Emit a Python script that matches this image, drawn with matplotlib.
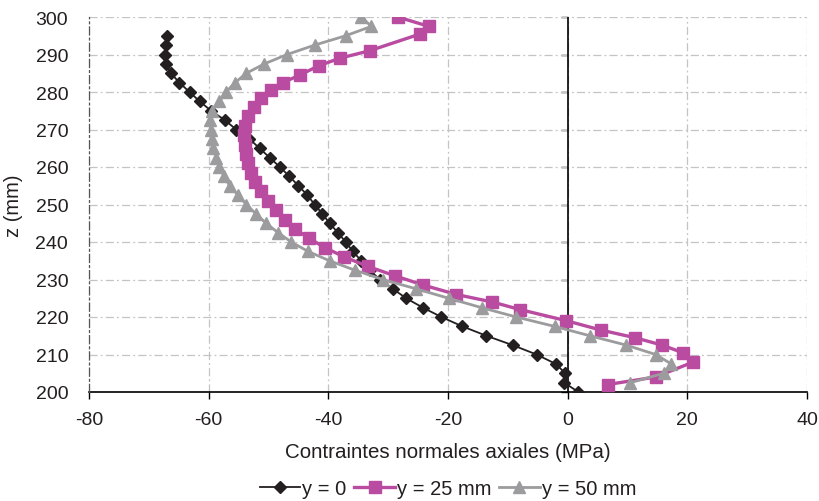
import matplotlib
matplotlib.use("Agg")
import matplotlib.pyplot as plt

# y = 0 (black diamonds)
z_black = [200, 202.5, 205, 207.5, 210, 212.5, 215, 217.5, 220, 222.5,
           225, 227.5, 230, 232.5, 235, 237.5, 240, 242.5, 245, 247.5,
           250, 252.5, 255, 257.5, 260, 262.5, 265, 267.5, 270, 272.5,
           275, 277.5, 280, 282.5, 285, 287.5, 290, 292.5, 295]
s_black = [1.8, -0.6, -0.4, -2.0, -5.2, -9.2, -13.6, -17.6, -21.1, -24.2,
           -27.0, -29.2, -31.4, -33.1, -34.5, -35.9, -37.1, -38.4, -39.8, -41.0,
           -42.3, -43.5, -45.0, -46.5, -48.1, -49.8, -51.5, -53.2, -55.4, -57.3,
           -59.6, -61.5, -63.2, -64.9, -66.3, -67.1, -67.3, -67.2, -67.0]

# y = 25 mm (magenta squares)
z_mag = [202, 204, 208, 210.5, 212.5, 214.5, 216.5, 219, 222, 224,
         226, 228.5, 231, 233.5, 236, 238.5, 241, 243.5, 246, 248.5,
         251, 253.5, 256, 258.5, 261, 263.5, 266, 268.5, 271, 273.5,
         276, 278.5, 280.5, 282.5, 284.5, 287, 289, 291, 295.5, 297.5, 300]
s_mag = [6.7, 14.7, 21.0, 19.2, 15.8, 11.2, 5.6, -0.2, -8.0, -12.6,
         -18.6, -24.1, -28.9, -33.4, -37.3, -40.6, -43.2, -45.6, -47.3, -48.8,
         -50.1, -51.3, -52.2, -52.9, -53.4, -53.8, -54.0, -54.1, -54.0, -53.5,
         -52.5, -51.2, -49.6, -47.6, -44.8, -41.6, -38.1, -33.1, -24.6, -23.2, -28.4]

# y = 50 mm (grey triangles)
z_grey = [202.5, 205, 207.5, 210, 212.5, 215, 217.5, 220, 222.5, 225,
          227.5, 230, 232.5, 235, 237.5, 240, 242.5, 245, 247.5, 250,
          252.5, 255, 257.5, 260, 262.5, 265, 267.5, 270, 272.5, 275,
          277.5, 280, 282.5, 285, 287.5, 290, 292.5, 295, 297.5, 300]
s_grey = [10.5, 16.1, 17.3, 14.7, 9.8, 3.7, -2.2, -8.6, -14.4, -19.9,
          -25.3, -30.9, -35.6, -39.8, -43.4, -46.2, -48.4, -50.4, -52.1, -53.7,
          -55.1, -56.5, -57.4, -58.2, -58.7, -59.3, -59.4, -59.6, -59.8, -59.4,
          -58.2, -57.1, -55.6, -53.7, -50.7, -46.9, -42.3, -37.1, -32.8, -34.5]

x_ticks = [-80, -60, -40, -20, 0, 20, 40]
y_ticks = [200, 210, 220, 230, 240, 250, 260, 270, 280, 290, 300]

text_col = "#231f20"
grid_dash = (0, (6.5, 2.5, 1.5, 2.5))
plt.rcParams["font.family"] = ["Liberation Sans", "DejaVu Sans"]
plt.rcParams["font.size"] = 14
plt.rcParams["axes.unicode_minus"] = False

fig = plt.figure(figsize=(8.19, 5.02), dpi=100)
ax = fig.add_axes([89 / 819, 1 - 393 / 502, 718 / 819, 375 / 502])

ax.plot(s_black, z_black, color="#231f20", lw=1.3, marker="D", ms=6.5,
        label="y = 0", zorder=3)
ax.plot(s_mag, z_mag, color="#b94ca0", lw=2.4, marker="s", ms=8.5,
        label="y = 25 mm", zorder=4)
ax.plot(s_grey, z_grey, color="#9c9c9e", lw=2.0, marker="^", ms=8.5,
        label="y = 50 mm", zorder=5)

ax.set_xlim(-80, 40)
ax.set_ylim(200, 300)
ax.set_xticks(x_ticks)
ax.set_yticks(y_ticks)
ax.grid(True, color="#c4c4c4", linestyle=grid_dash, lw=0.9)
ax.set_axisbelow(True)

for side in ["right", "top"]:
    ax.spines[side].set_visible(False)
ax.spines["left"].set_linestyle(grid_dash)
ax.spines["left"].set_color("#555555")
ax.spines["left"].set_linewidth(0.9)
ax.spines["bottom"].set_color("black")
ax.spines["bottom"].set_linewidth(1.2)
ax.spines["bottom"].set_zorder(2)
ax.tick_params(axis="x", direction="out", length=5, width=1, colors="black",
               labelcolor=text_col, pad=9)
ax.tick_params(axis="y", length=0, labelcolor=text_col, pad=15)

# vertical axis line crossing at x = 0
ax.axvline(0, color="black", lw=1.2, zorder=2)
sec = ax.secondary_yaxis(80 / 120)
sec.set_yticks(y_ticks)
sec.tick_params(axis="y", direction="in", length=5, width=1, labelright=False,
                labelleft=False)
sec.spines["right"].set_visible(False)

ax.set_xlabel("Contraintes normales axiales (MPa)", color=text_col, labelpad=10,
              fontsize=14.8)
ax.set_ylabel("z (mm)", color=text_col, labelpad=9, fontsize=14.5)

ax.legend(loc="center", bbox_to_anchor=(0.5, -0.257), ncol=3, frameon=False,
          handlelength=2.0, handletextpad=0.1, columnspacing=0.4,
          labelcolor=text_col, fontsize=14.5)

fig.savefig("out.png", dpi=100)
